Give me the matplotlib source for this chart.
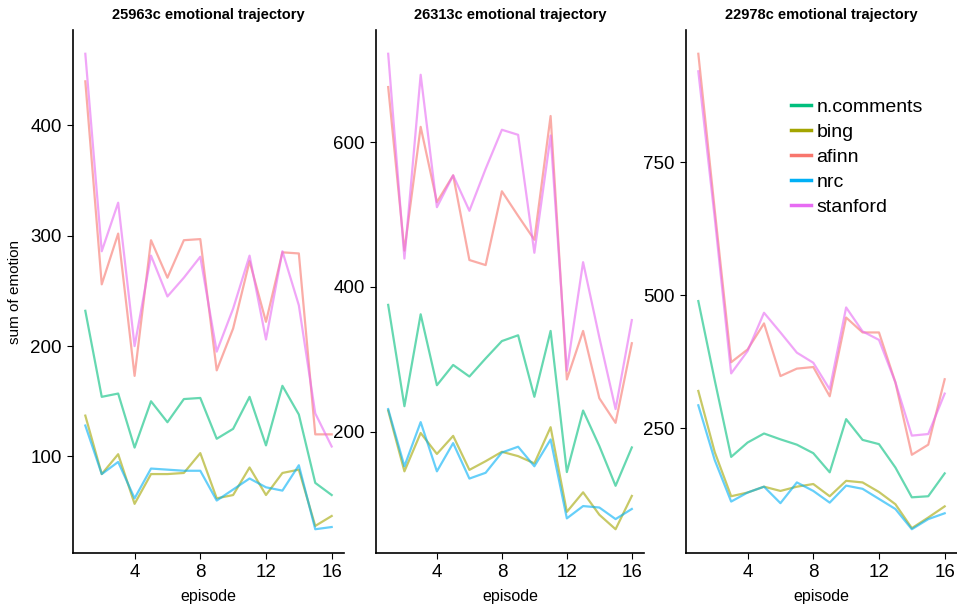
import numpy as np
import matplotlib
matplotlib.use("Agg")
import matplotlib.pyplot as plt

plt.rcParams['font.family'] = ['Liberation Sans', 'DejaVu Sans']

episodes = np.arange(1, 17)
series_names = ["n.comments", "bing", "afinn", "nrc", "stanford"]
colors = ["#00BF7D", "#A3A500", "#F8766D", "#00B0F6", "#E76BF3"]
titles = ["25963c emotional trajectory", "26313c emotional trajectory", "22978c emotional trajectory"]

# show 25963c
s1_ncomments = [232, 154, 157, 108, 150, 131, 152, 153, 116, 125, 154, 110, 164, 138, 76, 65]
s1_bing = [137, 84, 102, 57, 84, 84, 85, 103, 62, 65, 90, 65, 85, 88, 37, 46]
s1_afinn = [440, 256, 302, 173, 296, 262, 296, 297, 178, 216, 277, 222, 285, 284, 120, 120]
s1_nrc = [128, 84, 95, 62, 89, 88, 87, 87, 60, 70, 80, 72, 69, 92, 34, 36]
s1_stanford = [465, 286, 330, 200, 282, 245, 262, 281, 195, 234, 282, 206, 286, 237, 139, 109]

# show 26313c
s2_ncomments = [375, 235, 362, 264, 292, 276, 301, 325, 333, 248, 339, 144, 229, 180, 125, 178]
s2_bing = [229, 145, 198, 169, 194, 147, 159, 172, 166, 156, 206, 89, 116, 85, 65, 111]
s2_afinn = [676, 450, 621, 517, 554, 437, 430, 532, 498, 465, 636, 272, 339, 246, 212, 322]
s2_nrc = [231, 152, 213, 145, 184, 135, 143, 171, 179, 152, 189, 80, 97, 95, 79, 93]
s2_stanford = [722, 439, 693, 510, 554, 505, 563, 617, 610, 447, 609, 284, 434, 330, 231, 354]

# show 22978c
s3_ncomments = [489, 340, 196, 223, 240, 229, 219, 203, 167, 267, 228, 220, 176, 120, 122, 165]
s3_bing = [320, 205, 122, 129, 140, 132, 140, 145, 122, 151, 148, 130, 107, 62, 82, 103]
s3_afinn = [954, 660, 374, 398, 447, 348, 362, 365, 310, 458, 430, 430, 336, 200, 219, 342]
s3_nrc = [293, 190, 112, 129, 140, 109, 148, 132, 110, 142, 136, 117, 98, 60, 79, 90]
s3_stanford = [921, 645, 353, 395, 467, 430, 392, 373, 323, 477, 432, 416, 336, 236, 239, 315]

panels = [
    [s1_ncomments, s1_bing, s1_afinn, s1_nrc, s1_stanford],
    [s2_ncomments, s2_bing, s2_afinn, s2_nrc, s2_stanford],
    [s3_ncomments, s3_bing, s3_afinn, s3_nrc, s3_stanford],
]
yticks = [[100, 200, 300, 400], [200, 400, 600], [250, 500, 750]]

W, H = 957, 610
fig = plt.figure(figsize=(W / 100, H / 100), dpi=100)
# axes boxes in pixels: left, right
boxes = [(73, 344), (376, 644), (686, 957)]
top, bottom = 30, 553

for i, (l, r) in enumerate(boxes):
    ax = fig.add_axes([l / W, 1 - bottom / H, (r - l) / W, (bottom - top) / H])
    allv = np.concatenate([np.array(s) for s in panels[i]])
    lo, hi = allv.min(), allv.max()
    pad = 0.05 * (hi - lo)
    for name, col, vals in zip(series_names, colors, panels[i]):
        ax.plot(episodes, vals, color=col, alpha=0.6, lw=1.6, label=name)
    ax.set_xlim(0.25, 16.75)
    ax.set_ylim(lo - pad, hi + pad)
    ax.set_xticks([4, 8, 12, 16])
    ax.set_yticks(yticks[i])
    ax.tick_params(labelsize=13.5, length=4, width=0.8, colors="black", pad=4)
    for s in ["top", "right"]:
        ax.spines[s].set_visible(False)
    for s in ["left", "bottom"]:
        ax.spines[s].set_linewidth(1.2)
    ax.set_title(titles[i], fontsize=10.5, fontweight="bold", pad=8)
    ax.set_xlabel("episode", fontsize=11.5, labelpad=6)
    if i == 0:
        ax.set_ylabel("sum of emotion", fontsize=11, labelpad=6)
    if i == 2:
        leg = ax.legend(loc="upper left", bbox_to_anchor=(0.36, 0.885), frameon=False,
                        fontsize=14, handlelength=1.0, handletextpad=0.3,
                        labelspacing=0.38, borderaxespad=0)
        for lh in leg.get_lines():
            lh.set_alpha(1)
            lh.set_linewidth(2.5)

fig.savefig("out.png", dpi=100)
